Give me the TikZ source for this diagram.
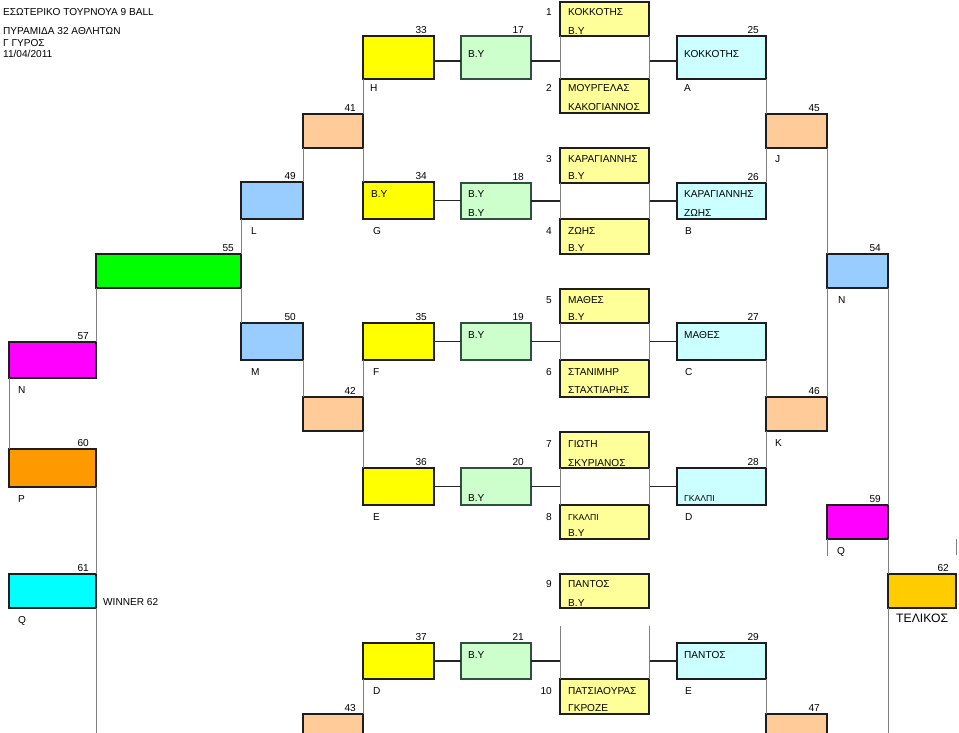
\documentclass[tikz,border=0pt]{standalone}
\usepackage{fontspec}
\setmainfont{Liberation Sans}
\definecolor{boxline}{HTML}{1E1E1E}
\definecolor{grnline}{HTML}{2F4F3F}
\definecolor{connh}{HTML}{262626}
\definecolor{connv}{HTML}{808080}
\definecolor{pyel}{HTML}{FFFF99}
\definecolor{yel}{HTML}{FFFF00}
\definecolor{pgrn}{HTML}{CCFFCC}
\definecolor{pcyan}{HTML}{CCFFFF}
\definecolor{peach}{HTML}{FFCC99}
\definecolor{lblue}{HTML}{99CCFF}
\definecolor{bgreen}{HTML}{00FF00}
\definecolor{magen}{HTML}{FF00FF}
\definecolor{orng}{HTML}{FF9900}
\definecolor{cyn}{HTML}{00FFFF}
\definecolor{gold}{HTML}{FFCC00}
\tikzset{
  bx/.style={draw=boxline, line width=1.2pt, inner sep=0pt, outer sep=0pt, anchor=north west},
  gbx/.style={bx, draw=grnline, fill=pgrn, minimum width=70pt},
  gap/.style={inner sep=0pt, outer sep=0pt, anchor=north west},
  conn/.style={draw=connh, line width=1.3pt},
  vline/.style={draw=connv, line width=1pt},
  txt/.style={inner sep=0pt, anchor=west, font=\fontsize{10.1}{12}\selectfont, text height=7.2pt, text depth=0pt},
  stxt/.style={txt, font=\fontsize{8.6}{10}\selectfont, text height=6.2pt},
  numr/.style={txt, anchor=east},
  big/.style={txt, font=\fontsize{12.2}{14}\selectfont, text height=8.8pt}
}
\newcommand\bx[6]{\node[bx, fill=#6, minimum width=#4pt, minimum height=#5pt] (#1) at (#2,#3) {};}
\newcommand\tx[4]{\node[txt] (#1) at (#2,#3) {#4};}
\newcommand\nr[4]{\node[numr] (#1) at (#2,#3) {#4};}
\begin{document}
\begin{tikzpicture}[x=1pt,y=-1pt]
\useasboundingbox (0,0) rectangle (959,733);
\clip (0,0) rectangle (959,733);
% gaps between paired match boxes
\node[gap, minimum width=89pt, minimum height=43pt] (g1) at (560,36) {};
\node[gap, minimum width=89pt, minimum height=36pt] (g2) at (560,183) {};
\node[gap, minimum width=89pt, minimum height=37pt] (g3) at (560,323) {};
\node[gap, minimum width=89pt, minimum height=37pt] (g4) at (560,468) {};
\node[gap, minimum width=89pt, minimum height=53pt] (g5) at (560,626) {};
\coordinate (h1) at (0,61);
\coordinate (bot1) at (96,733);
\coordinate (bot2) at (888,733);
\coordinate (q1) at (827,556);
\coordinate (t1) at (956,539);
\coordinate (t2) at (956,555);
% match boxes
\bx{m1}{560}{2}{89}{34}{pyel}
\bx{m2}{560}{79}{89}{34}{pyel}
\bx{m3}{560}{148}{89}{35}{pyel}
\bx{m4}{560}{219}{89}{35}{pyel}
\bx{m5}{560}{289}{89}{34}{pyel}
\bx{m6}{560}{360}{89}{37}{pyel}
\bx{m7}{560}{432}{89}{36}{pyel}
\bx{m8}{560}{505}{89}{34}{pyel}
\bx{m9}{560}{574}{89}{34}{pyel}
\bx{m10}{560}{679}{89}{35}{pyel}
% yellow
\bx{b33}{363}{36}{71}{43}{yel}
\bx{b34}{363}{182}{71}{37}{yel}
\bx{b35}{363}{323}{71}{37}{yel}
\bx{b36}{363}{468}{71}{37}{yel}
\bx{b37}{363}{643}{71}{36}{yel}
% pale green
\node[gbx, minimum height=43pt] (b17) at (461,36) {};
\node[gbx, minimum height=36pt] (b18) at (461,183) {};
\node[gbx, minimum height=37pt] (b19) at (461,323) {};
\node[gbx, minimum height=37pt] (b20) at (461,468) {};
\node[gbx, minimum height=36pt] (b21) at (461,643) {};
% pale cyan
\bx{b25}{677}{36}{89}{43}{pcyan}
\bx{b26}{677}{183}{89}{36}{pcyan}
\bx{b27}{677}{323}{89}{37}{pcyan}
\bx{b28}{677}{468}{89}{37}{pcyan}
\bx{b29}{677}{643}{89}{36}{pcyan}
% peach
\bx{b41}{303}{114}{60}{34}{peach}
\bx{b42}{303}{397}{60}{34}{peach}
\bx{b43}{303}{714}{60}{34}{peach}
\bx{b45}{766}{114}{61}{34}{peach}
\bx{b46}{766}{397}{61}{34}{peach}
\bx{b47}{766}{714}{61}{34}{peach}
% blue
\bx{b49}{241}{182}{62}{37}{lblue}
\bx{b50}{241}{323}{62}{37}{lblue}
\bx{b54}{827}{254}{61}{34}{lblue}
% others
\bx{b55}{96}{254}{145}{34}{bgreen}
\bx{b57}{9}{342}{87}{36}{magen}
\bx{b59}{827}{505}{61}{34}{magen}
\bx{b60}{9}{449}{87}{38}{orng}
\bx{b61}{9}{574}{87}{34}{cyn}
\bx{b62}{888}{574}{68}{34}{gold}
% horizontal connectors
\draw[conn] (b33.east |- h1) -- (b17.west |- h1);
\draw[conn] (b17.east |- h1) -- (g1.west |- h1);
\draw[conn] (g1.east |- h1) -- (b25.west |- h1);
\draw[conn] (b34.east) -- (b34.east -| b18.west);
\draw[conn] (b18.east) -- (g2.west);
\draw[conn] (g2.east) -- (b26.west);
\draw[conn] (b35.east) -- (b19.west);
\draw[conn] (b19.east) -- (g3.west);
\draw[conn] (g3.east) -- (b27.west);
\draw[conn] (b36.east) -- (b20.west);
\draw[conn] (b20.east) -- (g4.west);
\draw[conn] (g4.east) -- (b28.west);
\draw[conn] (b37.east) -- (b21.west);
\draw[conn] (b21.east) -- (b21.east -| g5.west);
\draw[conn] (b29.west -| g5.east) -- (b29.west);
% gap side lines
\foreach \g in {g1,g2,g3,g4,g5}{
  \draw[vline] (\g.north west) -- (\g.south west);
  \draw[vline] (\g.north east) -- (\g.south east);
}
% vertical connectors
\draw[vline] (b33.south west) -- (b41.north east);
\draw[vline] (b41.south east) -- (b34.north west);
\draw[vline] (b41.south west) -- (b49.north east);
\draw[vline] (b49.south west) -- (b55.north east);
\draw[vline] (b55.south east) -- (b50.north west);
\draw[vline] (b55.south west) -- (b57.north east);
\draw[vline] (b50.south east) -- (b42.north west);
\draw[vline] (b35.south west) -- (b42.north east);
\draw[vline] (b42.south east) -- (b36.north west);
\draw[vline] (b57.south west) -- (b60.north west);
\draw[vline] (b60.south east) -- (b61.north east);
\draw[vline] (b61.south east) -- (bot1);
\draw[vline] (b37.south west) -- (b43.north east);
\draw[vline] (b25.south east) -- (b45.north west);
\draw[vline] (b45.south west) -- (b26.north east);
\draw[vline] (b45.south east) -- (b54.north west);
\draw[vline] (b54.south west) -- (b46.north east);
\draw[vline] (b27.south east) -- (b46.north west);
\draw[vline] (b46.south west) -- (b28.north east);
\draw[vline] (b54.south east) -- (b59.north east);
\draw[vline] (b59.south east) -- (b62.north west);
\draw[vline] (b62.south west) -- (bot2);
\draw[vline] (b29.south east) -- (b47.north west);
\draw[vline] (b59.south west) -- (q1);
\draw[vline] (t1) -- (t2);
% title
\tx{ti1}{3}{12}{ΕΣΩΤΕΡΙΚΟ ΤΟΥΡΝΟΥΑ 9 BALL}
\tx{ti2}{3}{31}{ΠΥΡΑΜΙΔΑ 32 ΑΘΛΗΤΩΝ}
\tx{ti3}{3}{43}{Γ ΓΥΡΟΣ}
\tx{ti4}{3}{54}{11/04/2011}
% match numbers
\nr{k1}{552}{12}{1}
\nr{k2}{552}{88}{2}
\nr{k3}{552}{159}{3}
\nr{k4}{552}{231}{4}
\nr{k5}{552}{300}{5}
\nr{k6}{552}{372}{6}
\nr{k7}{552}{444}{7}
\nr{k8}{552}{517}{8}
\nr{k9}{552}{584}{9}
\nr{k10}{552}{691}{10}
% match texts
\tx{p1a}{568}{12}{ΚΟΚΚΟΤΗΣ}
\tx{p1b}{568}{31}{B.Y}
\tx{p2a}{568}{88}{ΜΟΥΡΓΕΛΑΣ}
\tx{p2b}{568}{107}{ΚΑΚΟΓΙΑΝΝΟΣ}
\tx{p3a}{568}{159}{ΚΑΡΑΓΙΑΝΝΗΣ}
\tx{p3b}{568}{176}{B.Y}
\tx{p4a}{568}{231}{ΖΩΗΣ}
\tx{p4b}{568}{248}{B.Y}
\tx{p5a}{568}{300}{ΜΑΘΕΣ}
\tx{p5b}{568}{317}{B.Y}
\tx{p6a}{568}{372}{ΣΤΑΝΙΜΗΡ}
\tx{p6b}{568}{390}{ΣΤΑΧΤΙΑΡΗΣ}
\tx{p7a}{568}{444}{ΓΙΩΤΗ}
\tx{p7b}{568}{463}{ΣΚΥΡΙΑΝΟΣ}
\node[stxt] (p8a) at (568,517) {ΓΚΑΛΠΙ};
\tx{p8b}{568}{533}{B.Y}
\tx{p9a}{568}{584}{ΠΑΝΤΟΣ}
\tx{p9b}{568}{603}{B.Y}
\tx{p10a}{568}{691}{ΠΑΤΣΙΑΟΥΡΑΣ}
\tx{p10b}{568}{708}{ΓΚΡΟΖΕ}
% other box texts
\tx{w17}{468}{54}{B.Y}
\tx{w18a}{468}{194}{B.Y}
\tx{w18b}{468}{213}{B.Y}
\tx{w19}{468}{335}{B.Y}
\tx{w20}{468}{498}{B.Y}
\tx{w21}{468}{655}{B.Y}
\tx{w25}{684}{54}{ΚΟΚΚΟΤΗΣ}
\tx{w26a}{684}{194}{ΚΑΡΑΓΙΑΝΝΗΣ}
\tx{w26b}{684}{213}{ΖΩΗΣ}
\tx{w27}{684}{335}{ΜΑΘΕΣ}
\node[stxt] (w28) at (684,498) {ΓΚΑΛΠΙ};
\tx{w29}{684}{655}{ΠΑΝΤΟΣ}
\tx{w34}{371}{194}{B.Y}
% box numbers
\nr{n33}{427}{29.5}{33}
\nr{n17}{524}{29.5}{17}
\nr{n25}{759}{29.5}{25}
\nr{n41}{356}{107.5}{41}
\nr{n45}{820}{107.5}{45}
\nr{n49}{296}{175.5}{49}
\nr{n34}{427}{175.5}{34}
\nr{n18}{524}{176.5}{18}
\nr{n26}{759}{176.5}{26}
\nr{n55}{234}{247.5}{55}
\nr{n54}{881}{247.5}{54}
\nr{n50}{296}{316.5}{50}
\nr{n35}{427}{316.5}{35}
\nr{n19}{524}{316.5}{19}
\nr{n27}{759}{316.5}{27}
\nr{n57}{89}{335.5}{57}
\nr{n42}{356}{390.5}{42}
\nr{n46}{820}{390.5}{46}
\nr{n60}{89}{442.5}{60}
\nr{n36}{427}{461.5}{36}
\nr{n20}{524}{461.5}{20}
\nr{n28}{759}{461.5}{28}
\nr{n59}{881}{498.5}{59}
\nr{n61}{89}{567.5}{61}
\nr{n62}{949}{567.5}{62}
\nr{n37}{427}{636.5}{37}
\nr{n21}{524}{636.5}{21}
\nr{n29}{759}{636.5}{29}
\nr{n43}{356}{707.5}{43}
\nr{n47}{820}{707.5}{47}
% letters
\tx{lH}{370}{88}{H}
\tx{lA}{684}{88}{A}
\tx{lJ}{775}{159}{J}
\tx{lL}{251}{231}{L}
\tx{lG}{373}{231}{G}
\tx{lB}{685}{231}{B}
\tx{lN1}{838}{300}{N}
\tx{lM}{251}{372}{M}
\tx{lF}{373}{372}{F}
\tx{lC}{685}{372}{C}
\tx{lN2}{18}{390}{N}
\tx{lK}{775}{443}{K}
\tx{lP}{18}{499}{P}
\tx{lE1}{373}{517}{E}
\tx{lD1}{685}{517}{D}
\tx{lQ1}{837}{551}{Q}
\tx{lQ2}{18}{620}{Q}
\tx{lD2}{373}{691}{D}
\tx{lE2}{685}{691}{E}
\tx{win}{103}{602}{WINNER 62}
\node[big] (fin) at (896,618) {ΤΕΛΙΚΟΣ};
\end{tikzpicture}
\end{document}
